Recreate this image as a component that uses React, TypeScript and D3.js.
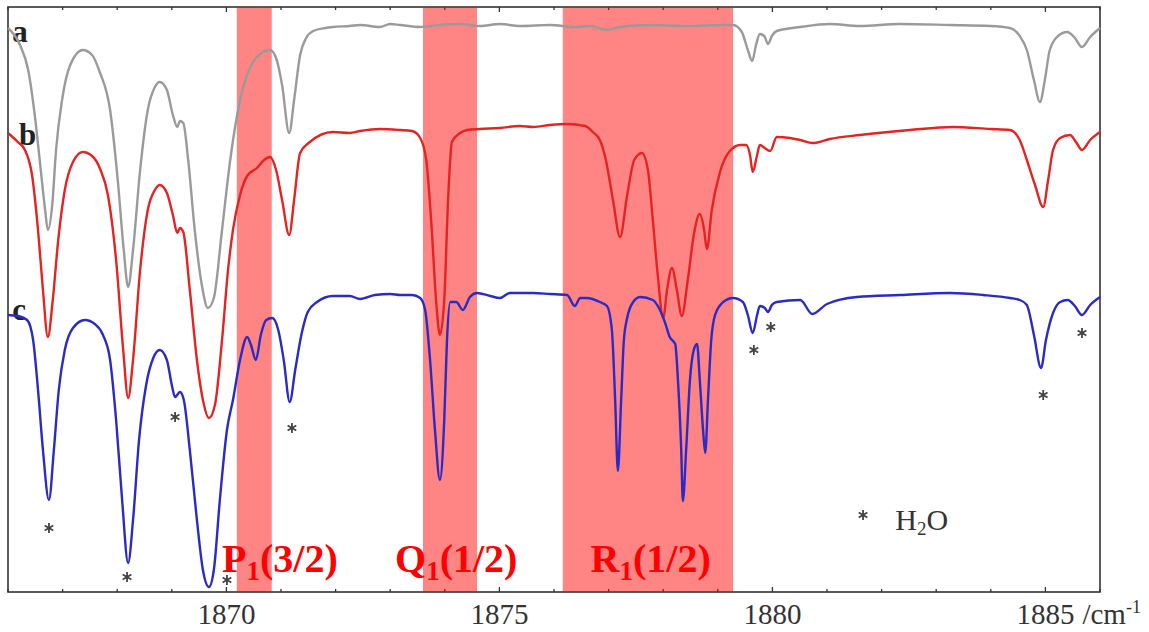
import * as d3 from "d3";

// wavenumber (cm-1), signal (arbitrary units, traces stacked with offset)
const TRACE_A = [
  [1866.0, 56.4], [1866.22, 54.7], [1866.37, 52.2], [1866.49, 47.7], [1866.6, 42.2], [1866.68, 38.2],
  [1866.73, 36.2], [1866.81, 38.7], [1866.88, 44.2], [1866.99, 49.2], [1867.14, 52.7], [1867.37, 54.2],
  [1867.54, 53.7], [1867.68, 52.0], [1867.87, 48.2], [1868.01, 41.2], [1868.12, 34.2], [1868.2, 30.5],
  [1868.29, 34.2], [1868.42, 42.2], [1868.56, 48.2], [1868.69, 50.5], [1868.78, 51.0], [1868.91, 50.2],
  [1869.02, 47.7], [1869.1, 46.5], [1869.15, 47.1], [1869.21, 46.9], [1869.3, 43.2], [1869.42, 36.2],
  [1869.55, 30.7], [1869.66, 28.4], [1869.77, 29.4], [1869.92, 36.2], [1870.07, 43.2], [1870.25, 49.2],
  [1870.43, 52.4], [1870.62, 53.8], [1870.8, 54.2], [1870.91, 53.4], [1871.02, 50.7], [1871.15, 45.9],
  [1871.24, 49.2], [1871.35, 53.7], [1871.46, 55.4], [1871.59, 56.1], [1871.81, 56.4], [1871.95, 56.5],
  [1872.26, 56.6], [1872.45, 56.7], [1872.81, 56.5], [1873.0, 56.8], [1873.18, 56.7], [1873.55, 56.5],
  [1873.91, 56.7], [1874.28, 56.8], [1874.64, 56.6], [1875.01, 56.8], [1875.38, 56.6], [1875.93, 56.7],
  [1876.38, 56.5], [1876.66, 56.6], [1876.97, 56.2], [1877.21, 56.5], [1877.76, 56.7], [1878.49, 56.6],
  [1879.04, 56.7], [1879.28, 56.7], [1879.44, 56.0], [1879.55, 54.2], [1879.63, 53.1], [1879.7, 54.7],
  [1879.77, 55.8], [1879.85, 55.6], [1879.92, 54.8], [1879.99, 55.6], [1880.08, 56.1], [1880.51, 56.5],
  [1881.05, 56.8], [1881.6, 56.6], [1882.34, 56.8], [1883.25, 56.7], [1883.99, 56.6], [1884.35, 56.4],
  [1884.53, 55.6], [1884.66, 54.2], [1884.79, 51.2], [1884.9, 49.0], [1884.99, 51.2], [1885.08, 54.2],
  [1885.23, 55.6], [1885.4, 56.0], [1885.54, 55.4], [1885.67, 54.5], [1885.82, 55.5], [1886.0, 56.4],
];

const TRACE_B = [
  [1866.0, 45.9], [1866.18, 45.0], [1866.31, 44.2], [1866.44, 41.7], [1866.55, 36.2], [1866.64, 30.2],
  [1866.73, 25.5], [1866.82, 29.2], [1866.92, 35.2], [1867.04, 40.2], [1867.19, 43.0], [1867.37, 44.0],
  [1867.54, 43.6], [1867.68, 42.4], [1867.83, 39.7], [1867.98, 33.2], [1868.11, 24.2], [1868.2, 19.4],
  [1868.29, 23.2], [1868.42, 32.2], [1868.56, 38.2], [1868.69, 40.2], [1868.78, 40.7], [1868.91, 39.9],
  [1869.02, 37.7], [1869.1, 35.9], [1869.15, 36.4], [1869.21, 36.0], [1869.33, 30.2], [1869.46, 23.2],
  [1869.57, 19.2], [1869.68, 17.4], [1869.79, 18.7], [1869.92, 25.2], [1870.03, 32.2], [1870.12, 36.2],
  [1870.25, 39.7], [1870.38, 41.6], [1870.56, 42.4], [1870.69, 43.2], [1870.8, 43.5], [1870.91, 42.2],
  [1871.02, 39.2], [1871.15, 35.7], [1871.24, 39.2], [1871.35, 43.9], [1871.53, 45.0], [1871.95, 46.0],
  [1872.26, 45.9], [1872.45, 46.1], [1872.81, 46.3], [1873.18, 46.2], [1873.4, 46.1], [1873.55, 45.4],
  [1873.66, 43.2], [1873.75, 37.2], [1873.84, 29.2], [1873.91, 25.7], [1873.99, 29.2], [1874.06, 39.2],
  [1874.13, 45.0], [1874.28, 45.9], [1874.41, 46.2], [1874.64, 46.3], [1875.01, 46.4], [1875.38, 46.6],
  [1875.62, 46.5], [1875.93, 46.7], [1876.24, 46.8], [1876.57, 46.6], [1876.71, 46.0], [1876.84, 45.2],
  [1876.95, 43.2], [1877.08, 39.2], [1877.21, 35.5], [1877.34, 39.7], [1877.47, 43.2], [1877.61, 43.9],
  [1877.72, 42.2], [1877.81, 37.2], [1877.9, 31.7], [1878.0, 27.4], [1878.07, 30.2], [1878.16, 32.4],
  [1878.25, 30.2], [1878.34, 27.6], [1878.45, 31.2], [1878.56, 35.7], [1878.67, 37.8], [1878.75, 36.2],
  [1878.8, 34.3], [1878.89, 38.2], [1879.04, 42.0], [1879.22, 44.1], [1879.41, 44.7], [1879.52, 44.7],
  [1879.59, 43.7], [1879.64, 42.0], [1879.72, 43.7], [1879.77, 44.7], [1879.86, 44.4], [1879.96, 44.1],
  [1880.08, 45.5], [1880.32, 45.4], [1880.51, 45.2], [1880.74, 44.9], [1881.05, 45.3], [1881.6, 45.7],
  [1882.52, 46.2], [1883.31, 46.5], [1883.99, 46.3], [1884.35, 46.2], [1884.53, 45.2], [1884.66, 43.2],
  [1884.81, 40.7], [1884.96, 38.5], [1885.05, 41.2], [1885.14, 44.2], [1885.27, 45.4], [1885.45, 45.7],
  [1885.56, 45.0], [1885.67, 44.2], [1885.82, 45.2], [1886.0, 46.0],
];

const TRACE_C = [
  [1866.0, 27.7], [1866.18, 27.6], [1866.35, 27.2], [1866.46, 25.2], [1866.55, 20.2], [1866.64, 14.2],
  [1866.75, 9.2], [1866.84, 14.2], [1866.93, 20.2], [1867.04, 24.2], [1867.19, 26.4], [1867.41, 27.2],
  [1867.59, 26.8], [1867.74, 25.7], [1867.87, 23.2], [1867.98, 17.2], [1868.09, 9.2], [1868.2, 2.9],
  [1868.29, 7.2], [1868.4, 15.2], [1868.53, 20.7], [1868.66, 23.4], [1868.78, 24.2], [1868.91, 23.2],
  [1869.0, 20.7], [1869.06, 19.5], [1869.15, 20.0], [1869.22, 19.2], [1869.33, 14.2], [1869.46, 7.2],
  [1869.57, 2.2], [1869.68, 0.5], [1869.77, 2.2], [1869.88, 9.2], [1870.01, 16.2], [1870.12, 19.2],
  [1870.25, 23.2], [1870.38, 25.5], [1870.45, 24.7], [1870.54, 23.2], [1870.63, 25.7], [1870.73, 27.2],
  [1870.84, 27.4], [1870.95, 26.2], [1871.05, 23.2], [1871.16, 19.0], [1871.26, 22.2], [1871.38, 25.9],
  [1871.49, 28.0], [1871.66, 29.0], [1871.95, 29.6], [1872.26, 29.6], [1872.45, 29.3], [1872.72, 29.7],
  [1873.0, 29.8], [1873.18, 29.7], [1873.4, 29.7], [1873.55, 29.4], [1873.64, 28.2], [1873.73, 23.2],
  [1873.82, 16.2], [1873.91, 11.2], [1873.99, 17.2], [1874.04, 25.2], [1874.1, 29.0], [1874.21, 29.0],
  [1874.33, 28.2], [1874.46, 29.5], [1874.59, 29.9], [1874.83, 29.6], [1875.01, 29.4], [1875.19, 29.9],
  [1875.62, 29.9], [1875.93, 29.8], [1876.24, 29.7], [1876.38, 28.6], [1876.48, 29.4], [1876.6, 29.4],
  [1876.84, 29.0], [1876.97, 28.6], [1877.06, 26.2], [1877.12, 19.2], [1877.17, 12.1], [1877.23, 19.2],
  [1877.28, 25.2], [1877.34, 27.4], [1877.45, 29.0], [1877.58, 29.5], [1877.81, 29.2], [1877.94, 28.2],
  [1878.03, 27.0], [1878.12, 25.5], [1878.22, 24.8], [1878.27, 21.2], [1878.33, 14.2], [1878.36, 9.1],
  [1878.42, 14.2], [1878.49, 21.2], [1878.56, 24.2], [1878.62, 24.8], [1878.67, 21.2], [1878.73, 16.2],
  [1878.77, 13.9], [1878.82, 19.2], [1878.88, 25.2], [1878.95, 27.7], [1879.1, 29.0], [1879.28, 29.4],
  [1879.46, 29.0], [1879.55, 27.7], [1879.64, 25.9], [1879.72, 27.7], [1879.77, 28.6], [1879.86, 28.4],
  [1879.92, 28.0], [1879.99, 28.7], [1880.08, 29.0], [1880.51, 29.2], [1880.73, 27.8], [1881.0, 28.8],
  [1881.55, 29.5], [1882.34, 29.7], [1883.25, 29.9], [1883.86, 29.7], [1884.35, 29.4], [1884.53, 29.2],
  [1884.66, 28.7], [1884.79, 25.7], [1884.92, 22.4], [1885.01, 25.2], [1885.14, 27.9], [1885.27, 29.0],
  [1885.41, 29.2], [1885.54, 28.6], [1885.67, 27.7], [1885.82, 28.7], [1886.0, 29.5],
];

const TRACE_NAMES = ["a", "b", "c"];
const TRACE_LABEL_POS = [[1866.08, 55.0], [1866.2, 44.7], [1866.08, 27.2]];

// highlighted regions [from, to] in cm-1
const BANDS = [[1870.19, 1870.83], [1873.6, 1874.59], [1876.16, 1879.28]];
const BAND_LABELS = [
  { main: "P", sub: "1", rest: "(3/2)", at: 1870.98 },
  { main: "Q", sub: "1", rest: "(1/2)", at: 1874.21 },
  { main: "R", sub: "1", rest: "(1/2)", at: 1877.77 },
];

// water lines marked with *
const H2O_MARKS = [
  [1866.75, 6.4], [1868.18, 1.5], [1869.06, 17.5], [1870.01, 1.2], [1871.2, 16.4],
  [1879.66, 24.2], [1879.97, 26.5], [1884.96, 19.7], [1885.67, 25.9],
];

const MAJOR_TICKS = [1870, 1875, 1880, 1885];

const W = 1149;
const H = 632;
const SERIF = "'Liberation Serif', 'Times New Roman', serif";

const App = () => {
  const x = d3.scaleLinear().domain([1866, 1886]).range([8, 1100]);
  const y = d3.scaleLinear().domain([0, 58.5]).range([592, 7]);

  const line = d3
    .line()
    .x((d) => x(d[0]))
    .y((d) => y(d[1]))
    .curve(d3.curveMonotoneX);

  const traces = [
    { data: TRACE_A, color: "#9a9a9a" },
    { data: TRACE_B, color: "#e42323" },
    { data: TRACE_C, color: "#2a2ac4" },
  ];

  const star = d3.symbol(d3.symbolAsterisk, 70)();
  const [x0, x1] = x.range();
  const [yb, yt] = y.range();
  const minor = x.ticks(20);

  return (
    <svg
      width={W}
      height={H}
      style={{ position: "absolute", left: 0, top: 0, background: "#fff" }}
      fontFamily={SERIF}
    >
      {/* frame + ticks */}
      <rect x={x0} y={yt} width={x1 - x0} height={yb - yt} fill="none" stroke="#333" strokeWidth={1.6} />
      {minor.map((t) => {
        const len = MAJOR_TICKS.includes(t) ? 5 : 3;
        return (
          <g key={t}>
            <line x1={x(t)} x2={x(t)} y1={yb} y2={yb - len} stroke="#333" strokeWidth={1.3} />
            <line x1={x(t)} x2={x(t)} y1={yt} y2={yt + len} stroke="#333" strokeWidth={1.3} />
          </g>
        );
      })}
      {MAJOR_TICKS.map((t) => (
        <text key={t} x={x(t)} y={624} textAnchor="middle" fontSize={29} fill="#333">
          {t}
        </text>
      ))}
      <text x={x(1885) + 37} y={624} fontSize={29} fill="#333">
        /cm<tspan dy={-11} fontSize={18}>-1</tspan>
      </text>

      {/* shaded bands */}
      {BANDS.map(([a, b], i) => (
        <rect key={i} x={x(a)} y={yt} width={x(b) - x(a)} height={yb - yt} fill="#ff0000" fillOpacity={0.48} />
      ))}

      {/* trace letters */}
      {TRACE_NAMES.map((n, i) => (
        <text
          key={n}
          x={x(TRACE_LABEL_POS[i][0])}
          y={y(TRACE_LABEL_POS[i][1])}
          fontSize={31}
          fontWeight="bold"
          fill="#222"
        >
          {n}
        </text>
      ))}

      {/* spectra */}
      {traces.map((t, i) => (
        <path key={i} d={line(t.data)} fill="none" stroke={t.color} strokeWidth={2.4} strokeLinejoin="round" />
      ))}

      {/* water markers */}
      {H2O_MARKS.map(([wn, v], i) => (
        <path key={i} d={star} transform={`translate(${x(wn)},${y(v)})`} stroke="#444" strokeWidth={1.8} fill="none" />
      ))}

      {/* band labels */}
      {BAND_LABELS.map((l) => (
        <text key={l.main} x={x(l.at)} y={y(2.0)} textAnchor="middle" fontSize={40} fontWeight="bold" fill="#ff0000">
          {l.main}
          <tspan dy={8} fontSize={27}>{l.sub}</tspan>
          <tspan dy={-8}>{l.rest}</tspan>
        </text>
      ))}

      {/* legend */}
      <path d={star} transform={`translate(${x(1881.66)},${y(7.7)})`} stroke="#444" strokeWidth={1.8} fill="none" />
      <text x={x(1882.25)} y={y(6.2)} fontSize={30} fill="#333">
        H<tspan dy={5} fontSize={19}>2</tspan>
        <tspan dy={-5}>O</tspan>
      </text>
    </svg>
  );
};

export default App;
